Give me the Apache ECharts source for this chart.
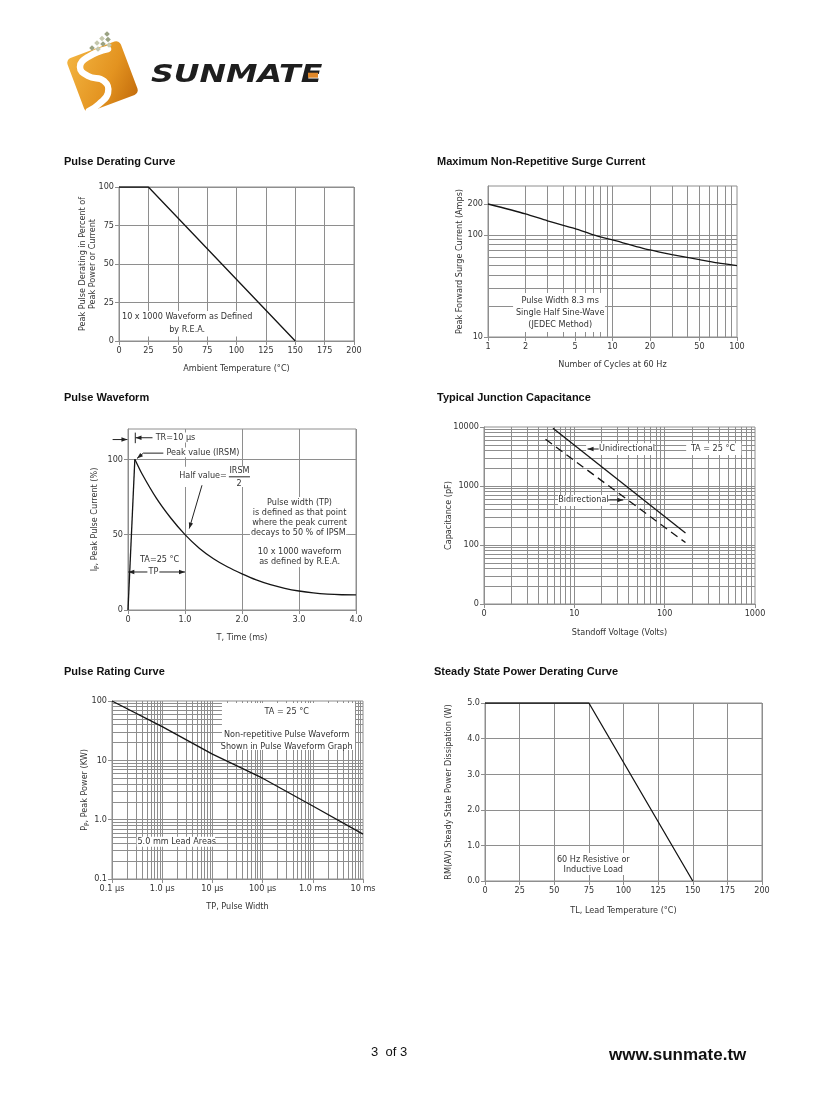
<!DOCTYPE html>
<html><head><meta charset="utf-8">
<script src="https://cdn.jsdelivr.net/npm/echarts@6.0.0/dist/echarts.min.js"></script>
<style>html,body{margin:0;padding:0;background:#fff}#main{width:825px;height:1100px}</style>
</head><body><div id="main"></div>
<script>
// ---------------- data ----------------
// Pulse Derating Curve
const derateTemp = [0, 25, 150];
const deratePct = [100, 100, 0];
// Maximum Non-Repetitive Surge Current
const surgeCycles = [1, 2, 3, 5, 7, 10, 20, 30, 50, 70, 100];
const surgeAmps = [200, 160, 137, 115, 100, 89, 71, 64, 57, 53, 50];
const surgeXTicks = [1, 2, 5, 10, 20, 50, 100];
const surgeYTicks = [10, 100, 200];
// Pulse Waveform
const riseT = [0, 0.12];
const riseI = [0, 100];
const decayT = [0.12, 0.25, 0.5, 0.75, 1.0, 1.25, 1.5, 1.75, 2.0, 2.25, 2.5, 2.75, 3.0, 3.25, 3.5, 3.75, 4.0];
const decayI = [100, 90, 74, 61, 50, 41, 34, 28.5, 24, 20, 16.8, 14.4, 12.6, 11.3, 10.5, 10.1, 10];
const waveXTicks = [0, 1, 2, 3, 4];
const waveXLabels = ['0', '1.0', '2.0', '3.0', '4.0'];
const waveYTicks = [0, 50, 100];
// Typical Junction Capacitance
const capUniV = [5.8, 170];
const capUniPF = [9500, 160];
const capBiV = [4.8, 170];
const capBiPF = [6200, 110];
const capXTicks = [1, 10, 100, 1000];
const capXLabels = ['0', '10', '100', '1000'];
const capYTicks = [10, 100, 1000, 10000];
const capYLabels = ['0', '100', '1000', '10000'];
// Pulse Rating Curve (pulse width in microseconds)
const ratingUs = [0.1, 1, 10, 100, 1000, 10000];
const ratingKW = [100, 37, 12.7, 5, 1.7, 0.57];
const ratingXTicks = [0.1, 1, 10, 100, 1000, 10000];
const ratingXLabels = ['0.1 µs', '1.0 µs', '10 µs', '100 µs', '1.0 ms', '10 ms'];
const ratingYTicks = [0.1, 1, 10, 100];
const ratingYLabels = ['0.1', '1.0', '10', '100'];
// Steady State Power Derating Curve
const ssTemp = [0, 75, 150];
const ssWatts = [5, 5, 0];

// ---------------- style ----------------
const GRID = '#8e8e8e', INK = '#151515', TXT = '#333';
const NARROW = "'Liberation Sans Narrow','DejaVu Sans Condensed','Arial Narrow','Liberation Sans',Arial,sans-serif";
const SANS = "'Liberation Sans',Arial,Helvetica,sans-serif";
const FS = 9;
const LAB = {color: TXT, fontSize: FS, fontFamily: NARROW};

const chart = echarts.init(document.getElementById('main'), null, {renderer: 'canvas', width: 825, height: 1100});

function lookupLog(ticks, labels) {
  return v => { for (let i = 0; i < ticks.length; i++) if (Math.abs(Math.log10(ticks[i]) - Math.log10(v)) < 1e-6) return labels[i]; return ''; };
}
function lookupLin(ticks, labels) {
  return v => { for (let i = 0; i < ticks.length; i++) if (Math.abs(ticks[i] - v) < 1e-9) return labels[i]; return ''; };
}
const richName = {
  a: {fontSize: FS, fontFamily: NARROW, color: TXT},
  b: {fontSize: 6.5, fontFamily: NARROW, color: TXT, padding: [5, 0, 0, 0]}
};
function baseAxis(gi, dim, o) {
  return {
    gridIndex: gi,
    axisLine: {show: true, onZero: false, lineStyle: {color: GRID, width: 1}},
    axisTick: {show: true, length: 4, lineStyle: {color: GRID}, customValues: o.ticks},
    axisLabel: Object.assign({margin: 5, hideOverlap: false, customValues: o.ticks, formatter: o.fmt}, LAB),
    name: o.name, nameLocation: 'middle', nameGap: o.gap, nameRotate: dim === 'y' ? 90 : 0,
    nameMoveOverlap: false,
    nameTextStyle: {color: TXT, fontSize: FS, fontFamily: NARROW, lineHeight: 10.5, rich: o.rich}
  };
}
function linAxis(gi, dim, o) {
  return Object.assign(baseAxis(gi, dim, o), {
    type: 'value', min: o.min, max: o.max, interval: o.interval,
    splitLine: {show: true, lineStyle: {color: GRID, width: 1}}
  });
}
function logAxis(gi, dim, o) {
  o.fmt = lookupLog(o.ticks, o.labels);
  return Object.assign(baseAxis(gi, dim, o), {
    type: 'log', logBase: 10, min: o.min, max: o.max, splitLine: {show: false}
  });
}
function logVals(min, max) {
  const out = [];
  for (let d = Math.floor(Math.log10(min)) - 1; d <= Math.ceil(Math.log10(max)); d++)
    for (let m = 1; m < 10; m++) {
      const v = +(m * Math.pow(10, d)).toPrecision(6);
      if (v > min * 1.0001 && v < max * 0.9999) out.push(v);
    }
  return out;
}
function gridSeries(gi, xv, yv) {
  return {
    type: 'line', xAxisIndex: gi, yAxisIndex: gi, data: [], silent: true, z: 1, animation: false,
    markLine: {
      silent: true, animation: false, z: 1, symbol: ['none', 'none'], label: {show: false},
      emphasis: {disabled: true}, lineStyle: {color: GRID, width: 1, type: 'solid'},
      data: xv.map(v => ({xAxis: v})).concat(yv.map(v => ({yAxis: v})))
    }
  };
}
function curve(gi, xs, ys, extra) {
  return Object.assign({
    type: 'line', xAxisIndex: gi, yAxisIndex: gi, data: xs.map((x, i) => [x, ys[i]]),
    showSymbol: false, symbol: 'none', animation: false, silent: true, z: 3,
    lineStyle: {color: INK, width: 1.3}
  }, extra || {});
}

const grids = [
  {left: 119, top: 187, width: 235, height: 154},
  {left: 488, top: 186, width: 249, height: 151},
  {left: 128, top: 429, width: 228, height: 181},
  {left: 484, top: 427, width: 271, height: 177},
  {left: 112, top: 701, width: 251, height: 178},
  {left: 485, top: 703, width: 277, height: 178}
].map(g => Object.assign(g, {show: true, borderColor: GRID, borderWidth: 1, backgroundColor: 'transparent', containLabel: false, outerBoundsMode: 'none'}));

chart.setOption({
  backgroundColor: '#fff',
  animation: false,
  textStyle: {fontFamily: NARROW},
  grid: grids,
  xAxis: [
    linAxis(0, 'x', {min: 0, max: 200, interval: 25, name: 'Ambient Temperature (°C)', gap: 22}),
    logAxis(1, 'x', {min: 1, max: 100, ticks: surgeXTicks, labels: surgeXTicks.map(String), name: 'Number of Cycles at 60 Hz', gap: 22}),
    linAxis(2, 'x', {min: 0, max: 4, interval: 0.5, ticks: waveXTicks, fmt: lookupLin(waveXTicks, waveXLabels), name: 'T, Time (ms)', gap: 22}),
    logAxis(3, 'x', {min: 1, max: 1000, ticks: capXTicks, labels: capXLabels, name: 'Standoff Voltage (Volts)', gap: 23}),
    logAxis(4, 'x', {min: 0.1, max: 10000, ticks: ratingXTicks, labels: ratingXLabels, name: 'TP, Pulse Width', gap: 22}),
    linAxis(5, 'x', {min: 0, max: 200, interval: 25, name: 'TL, Lead Temperature (°C)', gap: 24})
  ],
  yAxis: [
    linAxis(0, 'y', {min: 0, max: 100, interval: 25, name: 'Peak Pulse Derating in Percent of\nPeak Power or Current', gap: 21}),
    logAxis(1, 'y', {min: 10, max: 300, ticks: surgeYTicks, labels: surgeYTicks.map(String), name: 'Peak Forward Surge Current (Amps)', gap: 23}),
    linAxis(2, 'y', {min: 0, max: 120, interval: 10, ticks: waveYTicks, fmt: v => String(v), name: '{a|I}{b|P}{a|, Peak Pulse Current (%)}', rich: richName, gap: 28}),
    logAxis(3, 'y', {min: 10, max: 10000, ticks: capYTicks, labels: capYLabels, name: 'Capacitance (pF)', gap: 30}),
    logAxis(4, 'y', {min: 0.1, max: 100, ticks: ratingYTicks, labels: ratingYLabels, name: '{a|P}{b|P}{a|, Peak Power (KW)}', rich: richName, gap: 22}),
    linAxis(5, 'y', {min: 0, max: 5, interval: 1, fmt: v => v.toFixed(1), name: 'RM(AV) Steady State Power Dissipation (W)', gap: 31})
  ],
  series: [
    gridSeries(1, logVals(1, 100), logVals(10, 300)),
    gridSeries(3, logVals(1, 1000), logVals(10, 10000)),
    gridSeries(4, logVals(0.1, 10000), logVals(0.1, 100)),
    curve(0, derateTemp, deratePct),
    curve(1, surgeCycles, surgeAmps, {smooth: 0.25}),
    curve(2, riseT, riseI),
    curve(2, decayT, decayI, {smooth: 0.25}),
    curve(3, capUniV, capUniPF),
    curve(3, capBiV, capBiPF, {lineStyle: {color: INK, width: 1.3, type: [8, 5]}}),
    curve(4, ratingUs, ratingKW),
    curve(5, ssTemp, ssWatts)
  ]
});

// ---------------- annotations (placed from data coordinates) ----------------
function px(gi, x, y) { return chart.convertToPixel({xAxisIndex: gi, yAxisIndex: gi}, [x, y]); }
function note(gi, text, x, y, o) {
  o = o || {};
  const p = px(gi, x, y);
  return {type: 'text', z: 2, silent: true, x: p[0], y: p[1],
    style: {text: text, x: 0, y: 0, align: o.align || 'center', verticalAlign: 'middle',
      font: (o.size || FS) + 'px ' + NARROW, fill: TXT, lineHeight: o.lh || 11,
      backgroundColor: o.bg ? '#fff' : null, padding: o.pad || [1, 2]}};
}
function box(gi, x0, y0, x1, y1) {
  const a = px(gi, x0, y0), b = px(gi, x1, y1);
  return {type: 'rect', z: 2, silent: true,
    shape: {x: Math.min(a[0], b[0]), y: Math.min(a[1], b[1]), width: Math.abs(b[0] - a[0]), height: Math.abs(b[1] - a[1])},
    style: {fill: '#fff'}};
}
function arrow(gi, pts, head) {
  const P = pts.map(p => px(gi, p[0], p[1]));
  const els = [{type: 'polyline', z: 6, silent: true, shape: {points: P}, style: {stroke: '#222', lineWidth: 1, fill: null}}];
  if (head) {
    const tip = P[P.length - 1], from = P[P.length - 2];
    const dx = tip[0] - from[0], dy = tip[1] - from[1], L = Math.hypot(dx, dy), ux = dx / L, uy = dy / L;
    const len = 6, w = 2.2, bx = tip[0] - ux * len, by = tip[1] - uy * len;
    els.push({type: 'polygon', z: 6, silent: true, shape: {points: [tip, [bx - uy * w, by + ux * w], [bx + uy * w, by - ux * w]]}, style: {fill: '#222'}});
  }
  return els;
}

const ann = [];
// Chart 1
ann.push(box(0, 5, 3, 110, 19.5));
ann.push(note(0, '10 x 1000 Waveform as Defined\nby R.E.A.', 58, 11.4, {lh: 13}));
// Chart 2
ann.push(box(1, 1.59, 26.9, 8.7, 11.2));
ann.push(note(1, 'Pulse Width 8.3 ms\nSingle Half Sine-Wave\n(JEDEC Method)', 3.8, 17.2, {lh: 12}));
// Chart 3
ann.push(box(2, 0.40, 117.6, 1.14, 111.0));
ann.push(note(2, 'TR=10 µs', 0.45, 114.2, {align: 'left'}));
ann.push(...arrow(2, [[0.43, 114.2], [0.132, 114.2]], true));
ann.push(...arrow(2, [[0.128, 110.6], [0.128, 117.6]], false));
ann.push(...arrow(2, [[-0.27, 113.0], [-0.01, 113.0]], true));
ann.push(box(2, 0.60, 107.8, 1.88, 101.2));
ann.push(note(2, 'Peak value (IRSM)', 0.64, 104.2, {align: 'left'}));
ann.push(...arrow(2, [[0.62, 104.0], [0.27, 104.0], [0.158, 100.5]], true));
ann.push(box(2, 0.907, 95.0, 2.163, 81.6));
ann.push(note(2, 'Half value=', 1.316, 89.3));
ann.push(note(2, 'IRSM', 1.956, 92.6));
ann.push(note(2, '2', 1.947, 83.8));
ann.push(...arrow(2, [[1.77, 88.3], [2.14, 88.3]], false));
ann.push(...arrow(2, [[1.298, 82.7], [1.075, 54.0]], true));
ann.push(box(2, 2.14, 74.9, 3.86, 28.5));
ann.push(note(2, 'Pulse width (TP)\nis defined as that point\nwhere the peak current\ndecays to 50 % of IPSM.\n\n10 x 1000 waveform\nas defined by R.E.A.', 3.01, 51.6, {lh: 9.75}));
ann.push(box(2, 0.26, 36.3, 0.88, 30.7));
ann.push(note(2, 'TA=25 °C', 0.556, 33.6));
ann.push(box(2, 0.35, 27.6, 0.54, 22.8));
ann.push(note(2, 'TP', 0.445, 25.2));
ann.push(...arrow(2, [[0.34, 25.2], [0.005, 25.2]], true));
ann.push(...arrow(2, [[0.55, 25.2], [1.0, 25.2]], true));
// Chart 4
ann.push(box(3, 13.5, 5300, 77, 3350));
ann.push(note(3, 'Unidirectional', 38.3, 4236));
ann.push(...arrow(3, [[18.6, 4236], [14.0, 4236]], true));
ann.push(box(3, 173, 5300, 705, 3350));
ann.push(note(3, 'TA = 25 °C', 343, 4236));
ann.push(box(3, 6.6, 703, 24.7, 458));
ann.push(note(3, 'Bidirectional', 12.6, 580));
ann.push(...arrow(3, [[23.6, 580], [34.8, 580]], true));
// Chart 5
ann.push(box(4, 15.5, 92.5, 6930, 14.9));
ann.push(note(4, 'TA = 25 °C', 302, 66));
ann.push(note(4, 'Non-repetitive Pulse Waveform\nShown in Pulse Waveform Graph', 302, 21.2, {lh: 11.7}));
ann.push(box(4, 0.31, 0.516, 11.3, 0.35));
ann.push(note(4, '5.0 mm Lead Areas', 1.95, 0.426));
// Chart 6
ann.push(box(5, 51.8, 0.79, 104.7, 0.17));
ann.push(note(5, '60 Hz Resistive or\nInductive Load', 78.2, 0.46, {lh: 10.7}));

// ---------------- page decoration: titles, logo, footer ----------------
function title(text, x, y) {
  return {type: 'text', silent: true, z: 2, style: {text: text, x: x, y: y, verticalAlign: 'middle', font: 'bold 11px ' + SANS, fill: '#111'}};
}
const page = [
  title('Pulse Derating Curve', 64, 162),
  title('Maximum Non-Repetitive Surge Current', 437, 162),
  title('Pulse Waveform', 64, 398),
  title('Typical Junction Capacitance', 437, 398),
  title('Pulse Rating Curve', 64, 672),
  title('Steady State Power Derating Curve', 434, 672),
  {type: 'text', silent: true, style: {text: '3  of 3', x: 371, y: 1052, verticalAlign: 'middle', font: '13px ' + SANS, fill: '#111'}},
  {type: 'text', silent: true, style: {text: 'www.sunmate.tw', x: 609, y: 1055, verticalAlign: 'middle', font: 'bold 17px ' + SANS, fill: '#111'}},
  // logo
  {type: 'rect', silent: true, x: 102.5, y: 76.5, rotation: 0.36,
    shape: {x: -28.5, y: -28.5, width: 57, height: 57, r: 5},
    style: {fill: new echarts.graphic.LinearGradient(0, 0, 1, 1, [{offset: 0, color: '#f3b440'}, {offset: 0.6, color: '#e39320'}, {offset: 1, color: '#c46d0c'}])}},
  {type: 'polyline', silent: true, z: 3,
    shape: {points: [[108, 49], [88, 57], [80, 67], [88, 76], [104, 81], [108, 93], [99, 104], [89, 111]], smooth: 0.5},
    style: {stroke: '#fff', lineWidth: 6.5, lineCap: 'round', fill: null}},
  {type: 'text', silent: true, x: 151, y: 76, scaleX: 1.32,
    style: {text: 'SUNMATE', x: 0, y: 0, verticalAlign: 'middle', font: 'italic 900 24px "DejaVu Sans"', fill: '#1e1e1e'}},
  {type: 'rect', silent: true, z: 3, shape: {x: 308, y: 72.7, width: 10, height: 5}, style: {fill: '#e0882a'}}
];
const dots = [[107, 34], [102, 38.5], [108, 39.5], [97, 43], [103, 44], [109, 45], [92, 48], [98, 49]];
dots.forEach((d, i) => page.push({type: 'rect', silent: true, z: 4, x: d[0], y: d[1], rotation: Math.PI / 4,
  shape: {x: -2, y: -2, width: 4, height: 4}, style: {fill: i % 2 ? '#c5c8ad' : '#9aa282'}}));

chart.setOption({graphic: {elements: page.concat(ann)}});
</script></body></html>
